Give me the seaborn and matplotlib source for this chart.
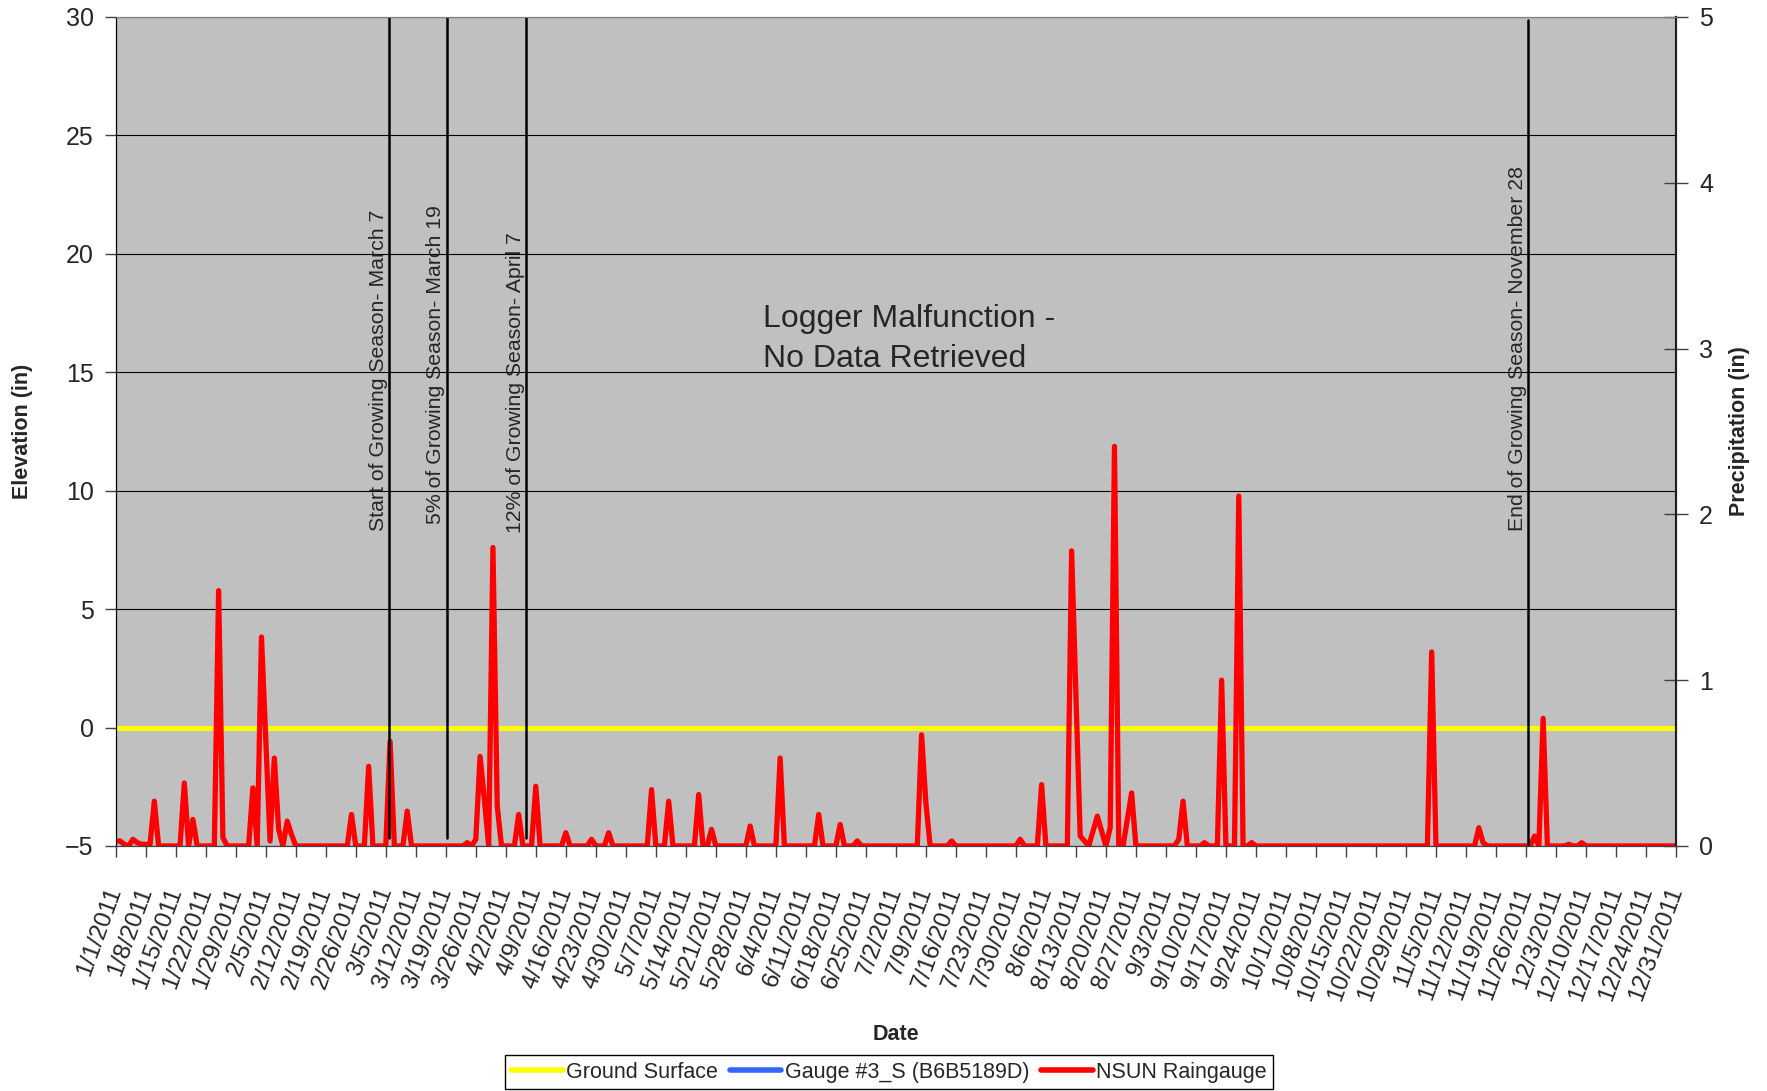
import numpy as np
import pandas as pd
import matplotlib
matplotlib.use("Agg")
import matplotlib.pyplot as plt
import seaborn as sns
from matplotlib.lines import Line2D

# --- values ---
# daily rainfall (in), only non-zero days listed; every other day is 0
rain_dates = [
    "2011-01-01", "2011-01-02", "2011-01-03", "2011-01-05", "2011-01-06", "2011-01-07",
    "2011-01-08", "2011-01-09", "2011-01-10", "2011-01-17", "2011-01-19", "2011-01-25",
    "2011-01-26", "2011-02-02", "2011-02-04", "2011-02-05", "2011-02-06", "2011-02-07",
    "2011-02-08", "2011-02-10", "2011-02-11", "2011-02-25", "2011-03-01", "2011-03-06",
    "2011-03-10", "2011-03-24", "2011-03-26", "2011-03-27", "2011-03-28", "2011-03-30",
    "2011-03-31", "2011-04-05", "2011-04-09", "2011-04-16", "2011-04-22", "2011-04-26",
    "2011-05-06", "2011-05-10", "2011-05-17", "2011-05-20", "2011-05-29", "2011-06-05",
    "2011-06-14", "2011-06-19", "2011-06-23", "2011-07-08", "2011-07-09", "2011-07-15",
    "2011-07-31", "2011-08-05", "2011-08-12", "2011-08-13", "2011-08-14", "2011-08-15",
    "2011-08-17", "2011-08-18", "2011-08-19", "2011-08-21", "2011-08-22", "2011-08-25",
    "2011-08-26", "2011-09-06", "2011-09-07", "2011-09-12", "2011-09-16", "2011-09-20",
    "2011-09-23", "2011-11-04", "2011-11-15", "2011-11-16", "2011-11-28", "2011-11-30",
    "2011-12-06", "2011-12-09",
]
rain_in = [
    0.03, 0.03, 0.01, 0.04, 0.02, 0.01,
    0.01, 0.01, 0.27, 0.38, 0.16, 1.54,
    0.05, 0.35, 1.26, 0.64, 0.03, 0.53,
    0.10, 0.15, 0.07, 0.19, 0.48, 0.63,
    0.21, 0.02, 0.04, 0.54, 0.28, 1.80,
    0.24, 0.19, 0.36, 0.08, 0.04, 0.08,
    0.34, 0.27, 0.31, 0.10, 0.12, 0.53,
    0.19, 0.13, 0.03, 0.67, 0.26, 0.03,
    0.04, 0.37, 1.78, 0.92, 0.06, 0.03,
    0.09, 0.18, 0.09, 0.11, 2.41, 0.16,
    0.32, 0.04, 0.27, 0.02, 1.00, 2.11,
    0.02, 1.17, 0.11, 0.02, 0.06, 0.77,
    0.01, 0.02,
]
ground_surface_in = 0.0

# growing season markers (drawn positions) and their labels
marker_dates = ["2011-03-05 19:00", "2011-03-19 05:00", "2011-04-06 17:00", "2011-11-26 14:00"]
marker_labels = [
    "Start of Growing Season- March 7",
    "5% of Growing Season- March 19",
    "12% of Growing Season- April 7",
    "End of Growing Season- November 28",
]
marker_text_y = [8.3, 8.6, 8.2, 8.3]
marker_span = [(0.01, 1.0), (0.01, 1.0), (0.01, 1.0), (0.0, 0.996)]

series_names = ["Ground Surface", "Gauge #3_S (B6B5189D)", "NSUN Raingauge"]
series_colors = ["#FFFF00", "#3366FF", "#FF0000"]

# --- build frames ---
days = pd.date_range("2011-01-01", "2011-12-31", freq="D")
rain = pd.Series(0.0, index=days)
rain.loc[pd.to_datetime(rain_dates)] = rain_in
rain_df = pd.DataFrame({"Date": days, "Precip": rain.values})
ground_df = pd.DataFrame({"Date": days, "Elevation": ground_surface_in})

tick_dates = pd.date_range("2011-01-01", "2011-12-31", freq="7D")
tick_labels = [f"{d.month}/{d.day}/{d.year}" for d in tick_dates]

sns.set_style("ticks")
plt.rcParams["font.family"] = ["Liberation Sans", "DejaVu Sans"]

fig = plt.figure(figsize=(17.67, 10.91), dpi=100)
ax = fig.add_axes([0.0655, 0.2246, 0.8830, 0.7599])
ax.set_facecolor("#C0C0C0")
ax2 = ax.twinx()

sns.lineplot(data=ground_df, x="Date", y="Elevation", ax=ax,
             color=series_colors[0], lw=3.6, legend=False)
sns.lineplot(data=rain_df, x="Date", y="Precip", ax=ax2,
             color=series_colors[2], lw=3.8, legend=False)

ax.set_xlim(days[0], days[-1])
ax.set_ylim(-5, 30)
ax.set_yticks(np.arange(-5, 31, 5))
ax2.set_ylim(0, 5)
ax2.set_yticks(range(6))

ax.set_xticks(tick_dates)
ax.set_xticklabels(tick_labels, rotation=70, ha="right", va="center",
                   rotation_mode="anchor", fontsize=17.5)
ax.tick_params(axis="x", direction="out", length=8, width=1, color="#404040", pad=22)
ax.tick_params(axis="y", direction="out", length=8, width=1, color="#404040",
               labelsize=18, pad=8)
ax2.tick_params(axis="y", direction="inout", length=17, width=1, color="#404040",
                labelsize=18, pad=8)

ax.grid(axis="y", color="black", lw=0.8)
ax.grid(axis="x", visible=False)

for a in (ax, ax2):
    a.spines["top"].set_color("#808080")
    a.spines["left"].set_color("black")
    a.spines["right"].set_color("#202020")
    a.spines["right"].set_linewidth(1.5)
    a.spines["bottom"].set_color("#404040")

# growing season lines and labels
for d, lab, ty, (y0, y1) in zip(marker_dates, marker_labels, marker_text_y, marker_span):
    t = pd.Timestamp(d)
    ax2.axvline(t, ymin=y0, ymax=y1, color="black", lw=1.8)
    ax.annotate(lab, xy=(t, ty), xytext=(-1, 0), textcoords="offset points",
                rotation=90, ha="right", va="bottom", fontsize=15.3)

ax.text(pd.Timestamp("2011-06-01"), 16.4, "Logger Malfunction -\nNo Data Retrieved",
        fontsize=23, ha="left", va="center", linespacing=1.4)

ax.set_xlabel("Date", fontsize=15.5, fontweight="bold")
ax.xaxis.set_label_coords(0.5, -0.215)
ax.set_ylabel("Elevation (in)", fontsize=15.5, fontweight="bold")
ax.yaxis.set_label_coords(-0.053, 0.5)
ax2.set_ylabel("Precipitation (in)", fontsize=15.5, fontweight="bold")
ax2.yaxis.set_label_coords(1.034, 0.5)
ax2.set_xlabel("")

handles = [Line2D([], [], color=c, lw=4) for c in series_colors]
leg = fig.legend(handles, series_names, loc="center", bbox_to_anchor=(0.503, 0.017),
                 ncol=3, fontsize=15.5, frameon=True, fancybox=False, framealpha=1,
                 edgecolor="black", handlelength=2.4, handletextpad=0.15,
                 columnspacing=0.55, borderpad=0.3)
leg.get_frame().set_linewidth(1.0)

fig.savefig("out.png", dpi=100)
